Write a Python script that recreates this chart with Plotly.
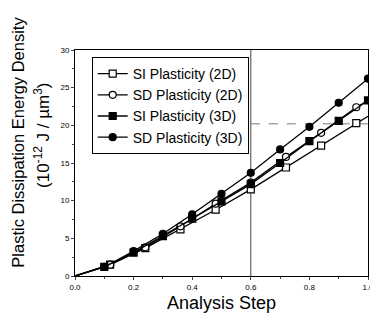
import plotly.graph_objects as go

# Data
x_2d = [0.0, 0.12, 0.24, 0.36, 0.48, 0.60, 0.72, 0.84, 0.96, 1.0]
si_2d = [0.0, 1.5, 3.7, 6.2, 8.8, 11.5, 14.4, 17.3, 20.3, 21.2]
sd_2d = [0.0, 1.5, 3.8, 6.6, 9.6, 12.4, 15.8, 19.0, 22.4, 23.3]
marker_2d = [False, True, True, True, True, True, True, True, True, False]

x_3d = [0.0, 0.1, 0.2, 0.3, 0.4, 0.5, 0.6, 0.7, 0.8, 0.9, 1.0]
si_3d = [0.0, 1.2, 3.1, 5.3, 7.6, 9.9, 12.2, 15.0, 17.9, 20.6, 23.3]
sd_3d = [0.0, 1.2, 3.3, 5.6, 8.2, 10.9, 13.7, 16.8, 19.8, 23.0, 26.2]
marker_3d = [False] + [True] * 10

x_ticks = [0.0, 0.2, 0.4, 0.6, 0.8, 1.0]
x_tick_labels = ["0.0", "0.2", "0.4", "0.6", "0.8", "1.0"]
y_ticks = [0, 5, 10, 15, 20, 25, 30]

FONT = "Liberation Sans, Arial, sans-serif"

fig = go.Figure()

def add(name, xs, ys, symbol, fill, show):
    mk = dict(symbol=symbol, size=7, color=fill, line=dict(color="black", width=1.2))
    fig.add_trace(go.Scatter(x=xs, y=ys, mode="lines", showlegend=False,
                             line=dict(color="black", width=1.3)))
    mx = [x for x, s in zip(xs, show) if s]
    my = [y for y, s in zip(ys, show) if s]
    fig.add_trace(go.Scatter(x=mx, y=my, mode="markers", showlegend=False, marker=mk))
    fig.add_trace(go.Scatter(x=[None], y=[None], mode="lines+markers", name=name,
                             line=dict(color="black", width=1.3), marker=mk))

add("SI Plasticity (2D)", x_2d, si_2d, "square", "white", marker_2d)
add("SD Plasticity (2D)", x_2d, sd_2d, "circle", "white", marker_2d)
add("SI Plasticity (3D)", x_3d, si_3d, "square", "black", marker_3d)
add("SD Plasticity (3D)", x_3d, sd_3d, "circle", "black", marker_3d)

# faint reference lines seen in the scan
fig.add_shape(type="line", xref="x", yref="y", x0=0.6, x1=0.6, y0=0, y1=30,
              line=dict(color="#444", width=1), layer="below")
fig.add_shape(type="line", xref="x", yref="y", x0=0.6, x1=1.0, y0=20.2, y1=20.2,
              line=dict(color="#777", width=1, dash="dash"), layer="below")

# the page body adds an 8px offset, so margins are shifted to compensate
fig.update_layout(
    width=378, height=321,
    margin=dict(l=67, r=12, t=42, b=53),
    paper_bgcolor="white", plot_bgcolor="white",
    font=dict(family=FONT, color="black"),
    showlegend=True,
    legend=dict(x=0.057, y=0.969, xanchor="left", yanchor="top",
                bordercolor="black", borderwidth=1, bgcolor="white",
                font=dict(size=14, family=FONT), tracegroupgap=0),
    xaxis=dict(range=[0, 1.0], tickvals=x_ticks, ticktext=x_tick_labels,
               showgrid=False, zeroline=False, showline=True, linecolor="black",
               linewidth=1, mirror=True, ticks="outside", ticklen=3,
               tickfont=dict(size=8, family=FONT),
               minor=dict(ticks="outside", ticklen=2, dtick=0.1)),
    yaxis=dict(range=[0, 30], tickvals=y_ticks,
               showgrid=False, zeroline=False, showline=True, linecolor="black",
               linewidth=1, mirror=True, ticks="outside", ticklen=3,
               tickfont=dict(size=8, family=FONT),
               minor=dict(ticks="outside", ticklen=2, dtick=2.5)),
    annotations=[
        dict(text="Plastic Dissipation Energy Density", textangle=-90,
             xref="paper", yref="paper", x=0, y=0.59, xanchor="center", yanchor="middle",
             xshift=-57, showarrow=False, font=dict(size=16.5, family=FONT)),
        dict(text="(10<sup>-12</sup> J / µm<sup>3</sup>)", textangle=-90,
             xref="paper", yref="paper", x=0, y=0.62, xanchor="center", yanchor="middle",
             xshift=-33, showarrow=False, font=dict(size=17, family=FONT)),
        dict(text="Analysis Step", xref="paper", yref="paper", x=0.5, y=0,
             xanchor="center", yanchor="middle", yshift=-27, showarrow=False,
             font=dict(size=18, family=FONT)),
    ],
)

fig.write_html("out.html")
